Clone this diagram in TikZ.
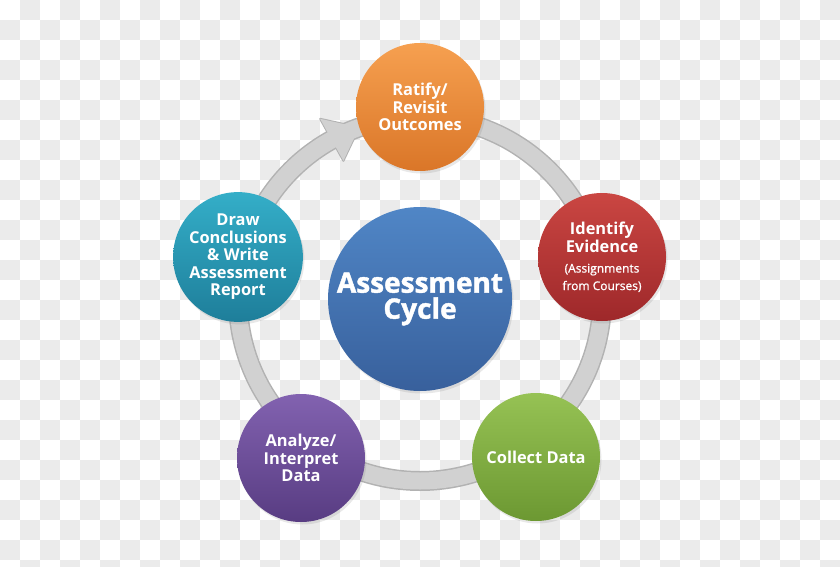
\documentclass[tikz,border=0pt]{standalone}
\usepackage{fontspec}
\setmainfont{Open Sans}
\newfontfamily\bubblefont{Open Sans Bold}
\newfontfamily\notefont[FakeBold=1]{Open Sans}
\newfontfamily\hubfont[FakeBold=1.5]{Open Sans Bold}
\usetikzlibrary{calc,shadows}
\definecolor{checkgray}{HTML}{EBEBEB}
\definecolor{ringfill}{HTML}{D1D1D1}
\definecolor{ringedge}{HTML}{B2B2B2}
\def\ringrad{182pt}
\def\smallnote{\notefont\fontsize{12}{13.5}\selectfont}

\begin{document}
\begin{tikzpicture}[x=1pt, y=1pt,
	bubble/.style={circle, minimum size=128pt, inner sep=0pt, align=center, text=white,
		font=\bubblefont\fontsize{16.4}{17.5}\selectfont,
		drop shadow={opacity=0.18, shadow xshift=1.5pt, shadow yshift=-2.5pt}}]
		%%%%% START %%%%%
		
		\useasboundingbox (0, 0) rectangle (840, 566);
		\clip (0, 0) rectangle (840, 566);
		
		% chequered background
		\foreach \i in {0,...,41}
			\foreach \j in {0,...,28}{
				\pgfmathparse{int(mod(\i+\j,2))}
				\ifnum\pgfmathresult=1
					\fill[checkgray] (20*\i, 566-20*\j) rectangle (20*\i+20, 546-20*\j);
				\fi
			}
		
		% hub
		\node[circle, minimum size=184pt, inner sep=0pt, align=center, text=white,
			top color={rgb,255:red,80;green,134;blue,198}, bottom color={rgb,255:red,56;green,96;blue,156},
			drop shadow={opacity=0.18, shadow xshift=1.5pt, shadow yshift=-2.5pt},
			font=\hubfont\fontsize{28}{26}\selectfont] (hub) at (420, 267) {Assessment\\Cycle};
		
		% ring and arrow head
		\draw[ringedge, line width=20pt] (hub.center) circle[radius=\ringrad];
		\filldraw[ringedge, line width=2pt, line join=round] ($(hub.center)+(109.5:182pt)$) -- ($(hub.center)+(119:206pt)$) -- ($(hub.center)+(119:158pt)$) -- cycle;
		\draw[ringfill, line width=17pt] (hub.center) circle[radius=\ringrad];
		\fill[ringfill] ($(hub.center)+(109.5:182pt)$) -- ($(hub.center)+(119:206pt)$) -- ($(hub.center)+(119:158pt)$) -- cycle;
		
		% stages
		\node[bubble, top color={rgb,255:red,246;green,160;blue,80}, bottom color={rgb,255:red,218;green,118;blue,40}] (ratify) at (420, 459) {Ratify/\\Revisit\\Outcomes};
		\node[bubble, top color={rgb,255:red,202;green,70;blue,66}, bottom color={rgb,255:red,158;green,40;blue,42}] (evidence) at (602, 309) {Identify\\Evidence\\[3pt]\smallnote(Assignments\\\smallnote from Courses)};
		\node[bubble, top color={rgb,255:red,150;green,194;blue,84}, bottom color={rgb,255:red,108;green,152;blue,50}] (collect) at (536, 109) {Collect Data};
		\node[bubble, top color={rgb,255:red,130;green,98;blue,176}, bottom color={rgb,255:red,88;green,60;blue,130}] (analyze) at (301, 108) {Analyze/\\Interpret\\Data};
		\node[bubble, top color={rgb,255:red,52;green,174;blue,200}, bottom color={rgb,255:red,30;green,126;blue,154}] (conclude) at (238, 309) {Draw\\Conclusions\\\& Write\\Assessment\\Report};
		
		%%%%% END %%%%%
\end{tikzpicture}
\end{document}
